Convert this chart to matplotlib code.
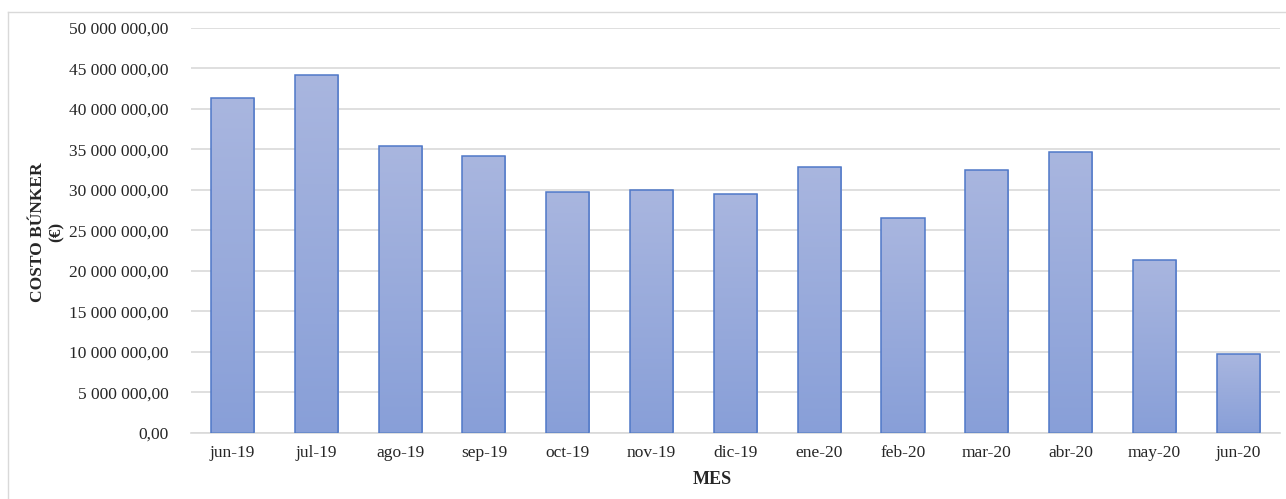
import numpy as np
import matplotlib
matplotlib.use("Agg")
import matplotlib.pyplot as plt
from matplotlib.colors import LinearSegmentedColormap
from matplotlib.lines import Line2D

# Monthly bunker cost (EUR)
months = ["jun-19", "jul-19", "ago-19", "sep-19", "oct-19", "nov-19", "dic-19",
          "ene-20", "feb-20", "mar-20", "abr-20", "may-20", "jun-20"]
costs = [41_350_000, 44_150_000, 35_400_000, 34_200_000, 29_800_000, 29_950_000,
         29_450_000, 32_850_000, 26_550_000, 32_500_000, 34_750_000, 21_400_000,
         9_700_000]
y_ticks = list(range(0, 50_000_001, 5_000_000))

plt.rcParams["font.family"] = ["Liberation Serif", "DejaVu Serif"]

fig = plt.figure(figsize=(12.86, 4.99), dpi=100)
ax = fig.add_axes([0.1482, 0.1323, 0.8472, 0.8116])

x = np.arange(len(months))
bars = ax.bar(x, costs, width=0.515, color="none", edgecolor="#4f78c8",
              linewidth=1.1, zorder=3)

# vertical gradient fill inside each bar
grad_cmap = LinearSegmentedColormap.from_list("bar_grad", ["#889fd8", "#a9b6df"])
grad = np.linspace(0, 1, 256).reshape(-1, 1)
for b in bars:
    x0, y0 = b.get_x(), b.get_y()
    w, h = b.get_width(), b.get_height()
    im = ax.imshow(grad, cmap=grad_cmap, origin="lower", aspect="auto",
                   extent=(x0, x0 + w, y0, y0 + h), zorder=2)
    im.set_clip_path(b)

ax.set_xlim(-0.5, len(months) - 0.5)
ax.set_ylim(0, 50_000_000)

def fmt_eur(v):
    s = f"{int(v):,}".replace(",", " ")
    return s + ",00"

ax.set_yticks(y_ticks)
ax.set_yticklabels([fmt_eur(v) for v in y_ticks])
ax.set_xticks(x)
ax.set_xticklabels(months)
ax.tick_params(axis="y", length=0, pad=16, labelsize=12.5, labelcolor="#262626")
ax.tick_params(axis="x", length=0, pad=9, labelsize=12.5, labelcolor="#262626")

ax.grid(axis="y", color="#d9d9d9", linewidth=1.2, zorder=0)
ax.set_axisbelow(True)
for side in ["top", "right", "left"]:
    ax.spines[side].set_visible(False)
ax.spines["bottom"].set_color("#d9d9d9")
ax.spines["bottom"].set_linewidth(1.2)

fig.text(712 / 1286, 1 - 480 / 499, "MES", ha="center", va="center",
         fontsize=13, fontweight="bold", color="#262626")
fig.text(47 / 1286, 1 - 232 / 499, "COSTO BÚNKER\n(€)", ha="center",
         va="center", rotation=90, fontsize=12.5, fontweight="bold",
         color="#262626", linespacing=1.2)

# chart area border (left and top edges visible)
fig.add_artist(Line2D([8 / 1286, 8 / 1286], [0, 1 - 12 / 499],
                      transform=fig.transFigure, color="#d9d9d9", linewidth=1))
fig.add_artist(Line2D([8 / 1286, 1], [1 - 12 / 499, 1 - 12 / 499],
                      transform=fig.transFigure, color="#d9d9d9", linewidth=1))

fig.savefig("out.png", dpi=100, facecolor="white")
